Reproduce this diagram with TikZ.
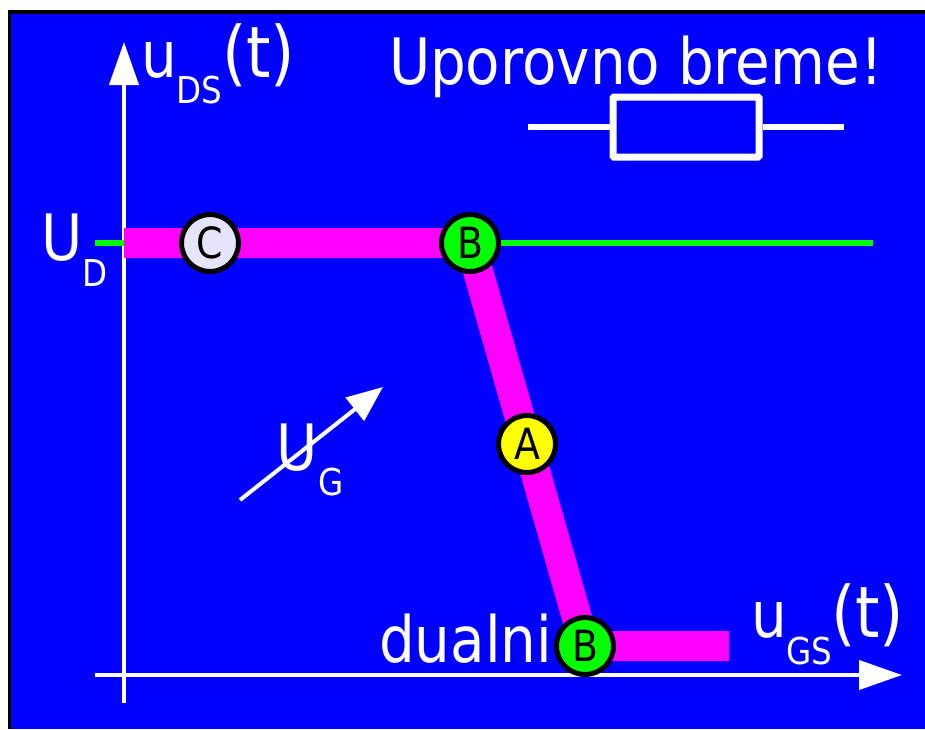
\documentclass[tikz,border=0pt]{standalone}
\usepackage{fontspec}
\setmainfont[FakeStretch=0.88]{DejaVu Sans}
\usetikzlibrary{arrows.meta}
\definecolor{bg}{RGB}{0,0,255}
\definecolor{mag}{RGB}{255,0,255}
\definecolor{grn}{RGB}{0,255,0}
\definecolor{pale}{RGB}{228,228,250}
\definecolor{yel}{RGB}{255,255,0}
\tikzset{
  x=1pt,y=-1pt,
  axisline/.style={draw=white,line width=4pt,-{Triangle[length=43pt,width=29pt,fill=white]}},
  wire/.style={draw=white,line width=6pt},
  lbl/.style={text=white,inner sep=0pt,outer sep=0pt,anchor=base west,font=\fontsize{64}{64}\selectfont},
  bigparen/.style={text=white,inner sep=0pt,outer sep=0pt,anchor=base west,font=\fontsize{71}{71}\selectfont},
  sublbl/.style={text=white,inner sep=0pt,outer sep=0pt,anchor=base west,font=\fontsize{37}{37}\selectfont},
  point/.style={circle,draw=black,line width=5pt,minimum size=57pt,inner sep=0pt,text=black,font=\fontsize{43}{43}\selectfont},
}
\begin{document}
\begin{tikzpicture}
\useasboundingbox (0,0) rectangle (925,729);
\fill[black] (7.5,10) rectangle (925,729);
\fill[bg] (11,13.5) rectangle (925,729);
% coordinates
\coordinate (yb) at (124,703);
\coordinate (yt) at (124,42);
\coordinate (xl) at (95,675);
\coordinate (xr) at (902,675);
\coordinate (gl) at (95,243);
\coordinate (gr) at (873,243);
\coordinate (ml) at (124,243);
\coordinate (mb) at (470,243);
\coordinate (mc) at (585,646);
\coordinate (mr) at (729,646);
\coordinate (ug1) at (240,500);
\coordinate (ug2) at (383,387);
\coordinate (r1) at (528,127);
\coordinate (r2) at (844,127);
% axes
\draw[axisline] (yb) -- (yt);
\draw[axisline] (xl) -- (xr);
\draw[grn,line width=6pt] (gl) -- (gr);
\draw[mag,line width=30pt,line join=miter] (ml) -- (mb) -- (mc) -- (mr);
% UG arrow
\draw[draw=white,line width=4pt,-{Triangle[length=36pt,width=29pt,fill=white]}] (ug1) -- (ug2);
% resistor
\node[draw=white,line width=7pt,rounded corners=1pt,minimum width=146pt,minimum height=60pt,inner sep=0pt] (res) at (686,127) {};
\draw[wire] (r1) -- (res.west);
\draw[wire] (res.east) -- (r2);
% points
\node[point,fill=pale] (c) at (210,243) {C};
\node[point,fill=grn] (b1) at (470,243) {B};
\node[point,fill=yel] (a) at (527,444) {A};
\node[point,fill=grn] (b2) at (585,646) {B};
% labels
\node[lbl] (uds) at (141,77) {u};
\node[sublbl] (udss) at (176,103) {DS};
\node[bigparen] (udst) at (222,77) {(t)};
\node[lbl] (title) at (389,84) {Uporovno breme!};
\node[lbl] (ud) at (41,260) {U};
\node[sublbl] (uds2) at (82,286) {D};
\node[lbl] (ug) at (276,470) {U};
\node[sublbl] (ugs) at (318,495) {G};
\node[lbl] (dual) at (379,662) {dualni};
\node[lbl] (ugsl) at (751,637) {u};
\node[sublbl] (ugss) at (786,664) {GS};
\node[bigparen] (ugst) at (831,637) {(t)};
\end{tikzpicture}
\end{document}
